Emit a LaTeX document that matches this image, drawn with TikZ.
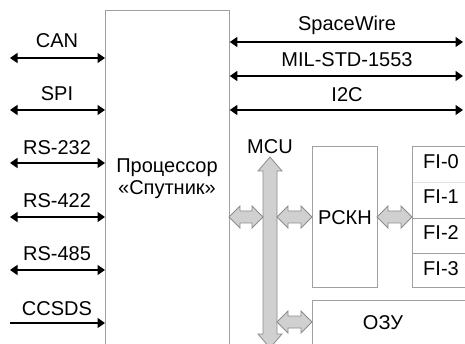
\documentclass[tikz,border=0pt]{standalone}
\usepackage{fontspec}
\setmainfont{Liberation Sans}
\usetikzlibrary{arrows.meta}
\definecolor{boxline}{HTML}{A0A0A0}
\definecolor{faintline}{HTML}{E2E2E2}
\definecolor{barfill}{HTML}{D0D0D0}
\definecolor{barline}{HTML}{8C8C8C}
\newcommand\hblk[3]{\draw[blk] (#1,#3) -- ++(11,-11) -- ++(0,5) -- ({#2-11},{#3-6}) -- ++(0,-5) -- (#2,#3) -- ++(-11,11) -- ++(0,-5) -- ({#1+11},{#3+6}) -- ++(0,5) -- cycle;}
\begin{document}
\begin{tikzpicture}[x=1pt,y=-1pt,
  txt/.style={font=\fontsize{20}{22}\selectfont, inner sep=0pt, anchor=base},
  sig/.style={line width=1.4pt, {Triangle[length=7.5pt,width=10pt]}-{Triangle[length=7.5pt,width=10pt]}},
  sigone/.style={line width=1.4pt, -{Triangle[length=7.5pt,width=10pt]}},
  box/.style={draw=boxline, line width=0.8pt, inner sep=0pt, anchor=north west},
  cell/.style={inner sep=0pt, anchor=north west, minimum width=70pt},
  blk/.style={draw=barline, fill=barfill, line width=0.8pt, line join=miter}]
\useasboundingbox (0,0) rectangle (465,344);
\clip (0,0) rectangle (465,344);
\fill[white] (0,0) rectangle (465,344);

% processor box
\node[box, minimum width=124pt, minimum height=360pt] (proc) at (105,10) {};
\node[txt] (proct1) at (167,173) {Процессор};
\node[txt] (proct2) at (167,195) {«Спутник»};

% left interfaces
\coordinate (canL) at (10,58);
\coordinate (spiL) at (10,110);
\coordinate (r232L) at (10,163);
\coordinate (r422L) at (10,217);
\coordinate (r485L) at (10,270);
\coordinate (ccsL) at (10,323);
\draw[sig] (canL) -- (canL -| proc.west);
\draw[sig] (spiL) -- (spiL -| proc.west);
\draw[sig] (r232L) -- (r232L -| proc.west);
\draw[sig] (r422L) -- (r422L -| proc.west);
\draw[sig] (r485L) -- (r485L -| proc.west);
\draw[sigone] (ccsL) -- (ccsL -| proc.west);
\node[txt] (tcan) at (57,48) {CAN};
\node[txt] (tspi) at (57,101) {SPI};
\node[txt] (t232) at (57,155) {RS-232};
\node[txt] (t422) at (57,208) {RS-422};
\node[txt] (t485) at (57,261) {RS-485};
\node[txt] (tccs) at (57,315) {CCSDS};

% right interfaces
\coordinate (swR) at (463,42);
\coordinate (milR) at (463,76);
\coordinate (i2cR) at (463,110);
\draw[sig] (swR -| proc.east) -- (swR);
\draw[sig] (milR -| proc.east) -- (milR);
\draw[sig] (i2cR -| proc.east) -- (i2cR);
\node[txt] (tsw) at (347,31) {SpaceWire};
\node[txt] (tmil) at (347,67) {MIL-STD-1553};
\node[txt] (ti2c) at (347,102) {I2C};

% MCU bus
\node[txt] (tmcu) at (270,154) {MCU};
\draw[blk] (270,157) -- (282,171) -- (277,171) -- (277,334) -- (282,334) -- (270,348)
  -- (258,334) -- (263,334) -- (263,171) -- (258,171) -- cycle;

% RSKN
\node[box, minimum width=65pt, minimum height=141pt] (rckn) at (312,146) {};
\node[txt] (trckn) at (345,225) {РСКН};

% FI cells
\node[cell, minimum height=36pt] (fi0) at (412,146) {};
\node[cell, minimum height=36pt] (fi1) at (412,182) {};
\node[cell, minimum height=35pt] (fi2) at (412,218) {};
\node[cell, minimum height=34pt] (fi3) at (412,253) {};
\draw[faintline, line width=0.8pt] (fi0.south west) -- (fi0.south east);
\draw[boxline, line width=0.8pt] (fi1.south west) -- (fi1.south east);
\draw[boxline, line width=0.8pt] (fi2.south west) -- (fi2.south east);
\draw[boxline, line width=0.8pt] (fi0.north east) -- (fi0.north west) -- (fi3.south west) -- (fi3.south east);
\node[txt] (tfi0) at (441,169) {FI-0};
\node[txt] (tfi1) at (441,204) {FI-1};
\node[txt] (tfi2) at (441,240) {FI-2};
\node[txt] (tfi3) at (441,276) {FI-3};

% RAM
\node[box, minimum width=170pt, minimum height=60pt] (ram) at (312,300) {};
\node[txt] (tram) at (383,329) {ОЗУ};

% block arrows
\hblk{229}{263}{217}
\hblk{277}{312}{217}
\hblk{377}{412}{217}
\hblk{277}{312}{322}
\end{tikzpicture}
\end{document}
